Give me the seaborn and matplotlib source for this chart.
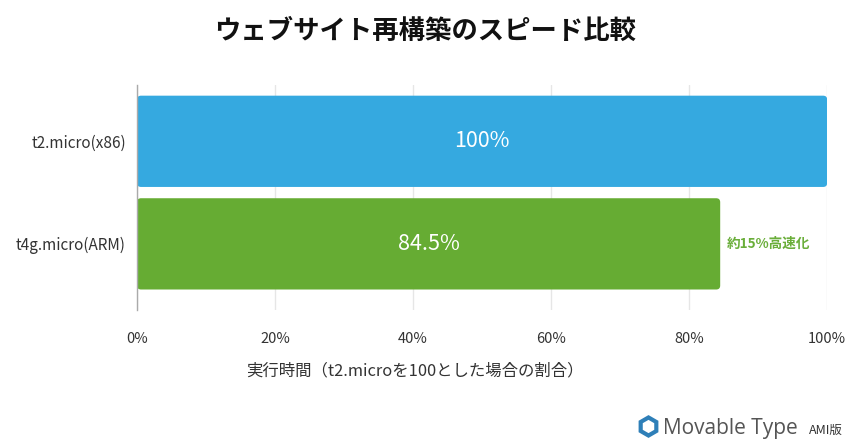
import numpy as np
import pandas as pd
import seaborn as sns
import matplotlib.pyplot as plt
from matplotlib.patches import FancyBboxPatch
from matplotlib.lines import Line2D

categories = ["t2.micro(x86)", "t4g.micro(ARM)"]
values = [100, 84.5]
bar_labels = ["100%", "84.5%"]
colors = ["#35A9E0", "#66AC33"]
xticks = [0, 20, 40, 60, 80, 100]
xtick_labels = ["0%", "20%", "40%", "60%", "80%", "100%"]
title = "ウェブサイト再構築のスピード比較"
xlabel = "実行時間（t2.microを100とした場合の割合）"
note = "約15%高速化"

sns.set_style("white")
plt.rcParams["font.family"] = ["Noto Sans CJK JP", "DejaVu Sans"]

df = pd.DataFrame({"name": categories, "value": values})

fig = plt.figure(figsize=(8.51, 4.44), dpi=100)
ax = fig.add_axes([0.161, 0.302, 0.811, 0.507])

sns.barplot(data=df, x="value", y="name", hue="name", palette=colors,
            saturation=1, width=0.89, legend=False, ax=ax)

# swap plain bars for rounded ones
px_x = 100 / (0.811 * 851)
ylim = (1.644, -0.551)
px_y = (ylim[0] - ylim[1]) / (0.507 * 444)
for p in list(ax.patches):
    x0, y0 = p.get_x(), p.get_y()
    w, h = p.get_width(), p.get_height()
    fc = p.get_facecolor()
    p.remove()
    ax.add_patch(FancyBboxPatch((x0, y0), w, h,
                                boxstyle=f"round,pad=0,rounding_size={4 * px_x}",
                                mutation_aspect=px_y / px_x,
                                fc=fc, ec="none", zorder=2))

for i, (v, lab) in enumerate(zip(values, bar_labels)):
    ax.text(v / 2, i, lab, color="white", fontsize=15.5, ha="center", va="center", zorder=3)

ax.text(values[1] + 0.9, 1, note, color="#6AAE3A", fontsize=9.8, fontweight="bold",
        ha="left", va="center", zorder=3)

ax.set_xlim(0, 100)
ax.set_ylim(*ylim)
ax.set_xticks(xticks)
ax.set_xticklabels(xtick_labels)
ax.tick_params(axis="both", length=0, labelsize=10.5, colors="#333333")
ax.tick_params(axis="y", labelsize=11, pad=8)
ax.tick_params(axis="x", pad=16)
ax.set_ylabel("")
ax.set_xlabel(xlabel, fontsize=11.8, color="#333333")
ax.xaxis.set_label_coords(0.403, -0.235)
ax.xaxis.grid(True, color="#e6e6e6", lw=1, zorder=0)
ax.set_axisbelow(True)
for s in ["top", "right", "bottom"]:
    ax.spines[s].set_visible(False)
ax.spines["left"].set_color("#aaaaaa")
ax.spines["left"].set_linewidth(1)

fig.text(0.5, 0.93, title, ha="center", va="center", fontsize=19, fontweight="bold", color="#111111")

# logo
fig.add_artist(Line2D([0.762], [0.04], marker="h", markersize=13, markerfacecolor="none",
                      markeredgecolor="#2E7FB8", markeredgewidth=3, transform=fig.transFigure))
fig.text(0.779, 0.034, "Movable Type", fontsize=15, color="#555555", va="center", ha="left",
         family=["Open Sans", "DejaVu Sans"])
fig.text(0.951, 0.03, "AMI版", fontsize=9, color="#333333", va="center", ha="left")

fig.savefig("out.png", dpi=100, facecolor="white")
